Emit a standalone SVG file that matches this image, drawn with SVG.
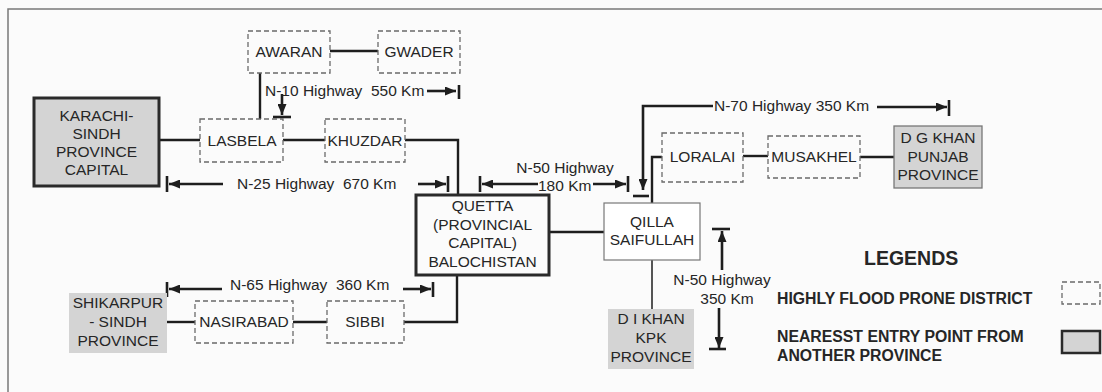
<svg xmlns="http://www.w3.org/2000/svg" width="1102" height="392" viewBox="0 0 1102 392">
<defs>
<marker id="ah" markerUnits="userSpaceOnUse" markerWidth="11" markerHeight="9" refX="11" refY="4.5" orient="auto"><path d="M0,0 L11,4.5 L0,9 z" fill="#1e1e1e"/></marker>
<style>
text{font-family:"Liberation Sans",Arial,sans-serif;font-size:15.5px;fill:#262626;text-anchor:middle}
.lab{text-anchor:start}
.b{font-weight:bold;text-anchor:start;font-size:15.8px}
.dash{fill:none;stroke:#6a6a6a;stroke-width:1.3;stroke-dasharray:5 3}
.prov{fill:#d4d4d4;stroke:none}
.thick{fill:#d4d4d4;stroke:#2a2a2a;stroke-width:3}
.con{fill:none;stroke:#1e1e1e;stroke-width:2.4}
.thin{fill:none;stroke:#1e1e1e;stroke-width:1.5}
.arr{fill:none;stroke:#1e1e1e;stroke-width:2.6;marker-end:url(#ah)}
.bar{fill:none;stroke:#1e1e1e;stroke-width:2.6}
</style>
</defs>
<rect width="1102" height="392" fill="#fbfbfb"/>
<path d="M8,392 V9 H1102" fill="none" stroke="#7a7a7a" stroke-width="1.5"/>

<g id="connectors">
<path class="con" d="M330,51 H378"/>
<path class="con" d="M260,73 V119"/>
<path class="con" d="M159,140 H200"/>
<path class="con" d="M283,140 H325"/>
<path class="con" d="M405,140 H458 V195"/>
<path class="con" d="M549,232 H604"/>
<path class="thin" d="M652,260 V309"/>
<path class="con" d="M662,157 H652 V203"/>
<path class="con" d="M743,156 H768"/>
<path class="con" d="M860,157 H894"/>
<path class="con" d="M457,275 V322 H404"/>
<path class="con" d="M293,322 H327"/>
<path class="con" d="M167,322 H195"/>
</g>

<g id="dimensions">
<path class="arr" d="M427,91 H456"/><path class="bar" d="M459,85 V99"/>
<path class="arr" d="M282,94 V115"/><path class="bar" d="M273,117 H291"/>
<path class="arr" d="M223,184 H169"/><path class="bar" d="M167,176 V192"/>
<path class="arr" d="M418,184 H446"/><path class="bar" d="M448,176 V192"/>
<path class="arr" d="M538,184 H482"/><path class="bar" d="M480,176 V192"/>
<path class="arr" d="M593,184 H626"/><path class="bar" d="M628,176 V192"/>
<path class="arr" d="M713,106 H643 V190"/><path class="bar" d="M633,196 H649"/>
<path class="arr" d="M877,107 H947"/><path class="bar" d="M949,100 V116"/>
<path class="arr" d="M222,289 H169"/><path class="bar" d="M167,282 V297"/>
<path class="arr" d="M403,289 H431"/><path class="bar" d="M433,282 V297"/>
<path class="arr" d="M722,270 V231"/><path class="bar" d="M712,229 H730"/>
<path class="arr" d="M719,308 V348"/><path class="bar" d="M709,349 H726"/>
<text class="lab" x="265" y="96" xml:space="preserve">N-10 Highway  550 Km</text>
<text class="lab" x="237" y="189" xml:space="preserve">N-25 Highway  670 Km</text>
<text x="565" y="173">N-50 Highway</text>
<text class="lab" x="538" y="191">180 Km</text>
<text class="lab" x="714" y="111">N-70 Highway 350 Km</text>
<text class="lab" x="230" y="290" xml:space="preserve">N-65 Highway  360 Km</text>
<text x="722" y="285">N-50 Highway</text>
<text x="727" y="304">350 Km</text>
</g>

<g id="awaran"><rect class="dash" x="248" y="31" width="82" height="42"/><text x="289" y="57">AWARAN</text></g>
<g id="gwader"><rect class="dash" x="378" y="31" width="82" height="42"/><text x="419" y="57">GWADER</text></g>
<g id="lasbela"><rect class="dash" x="200" y="119" width="83" height="43"/><text x="242" y="146">LASBELA</text></g>
<g id="khuzdar"><rect class="dash" x="325" y="119" width="80" height="43"/><text x="365" y="146">KHUZDAR</text></g>
<g id="karachi"><rect class="thick" x="34" y="98" width="125" height="88"/>
<text x="96.5" y="121">KARACHI-</text><text x="96.5" y="139">SINDH</text><text x="96.5" y="157">PROVINCE</text><text x="96.5" y="175">CAPITAL</text></g>
<g id="quetta"><rect x="416" y="195" width="133" height="80" fill="none" stroke="#2a2a2a" stroke-width="3"/>
<text x="482.5" y="211">QUETTA</text><text x="482.5" y="230">(PROVINCIAL</text><text x="482.5" y="248">CAPITAL)</text><text x="482.5" y="267">BALOCHISTAN</text></g>
<g id="qilla"><rect x="604" y="203" width="96" height="57" fill="#fff" stroke="#777" stroke-width="1.2"/>
<text x="652" y="227">QILLA</text><text x="652" y="245">SAIFULLAH</text></g>
<g id="dikhan"><rect class="prov" x="608" y="309" width="86" height="60"/>
<text x="651" y="324">D I KHAN</text><text x="651" y="343">KPK</text><text x="651" y="362">PROVINCE</text></g>
<g id="loralai"><rect class="dash" x="662" y="133" width="81" height="49"/><text x="702.5" y="162">LORALAI</text></g>
<g id="musakhel"><rect class="dash" x="768" y="136" width="92" height="42"/><text x="814" y="162">MUSAKHEL</text></g>
<g id="dgkhan"><rect x="894" y="126" width="88" height="62" fill="#d4d4d4" stroke="#777" stroke-width="1.3"/>
<text x="938" y="143">D G KHAN</text><text x="938" y="162">PUNJAB</text><text x="938" y="180">PROVINCE</text></g>
<g id="sibbi"><rect class="dash" x="327" y="301" width="77" height="42"/><text x="365" y="327">SIBBI</text></g>
<g id="nasirabad"><rect class="dash" x="195" y="301" width="98" height="42"/><text x="244" y="327">NASIRABAD</text></g>
<g id="shikarpur"><rect class="prov" x="69" y="293" width="98" height="60"/>
<text x="118" y="308">SHIKARPUR</text><text x="118" y="327">- SINDH</text><text x="118" y="346">PROVINCE</text></g>

<g id="legend">
<text class="b" x="864" y="265" style="font-size:19.5px">LEGENDS</text>
<text class="b" x="777" y="304">HIGHLY FLOOD PRONE DISTRICT</text>
<text class="b" x="777" y="342">NEARESST ENTRY POINT FROM</text>
<text class="b" x="777" y="361">ANOTHER PROVINCE</text>
<rect class="dash" x="1062" y="282" width="38" height="22"/>
<rect x="1062" y="331" width="38" height="22" fill="#d4d4d4" stroke="#2a2a2a" stroke-width="2.5"/>
</g>
</svg>
